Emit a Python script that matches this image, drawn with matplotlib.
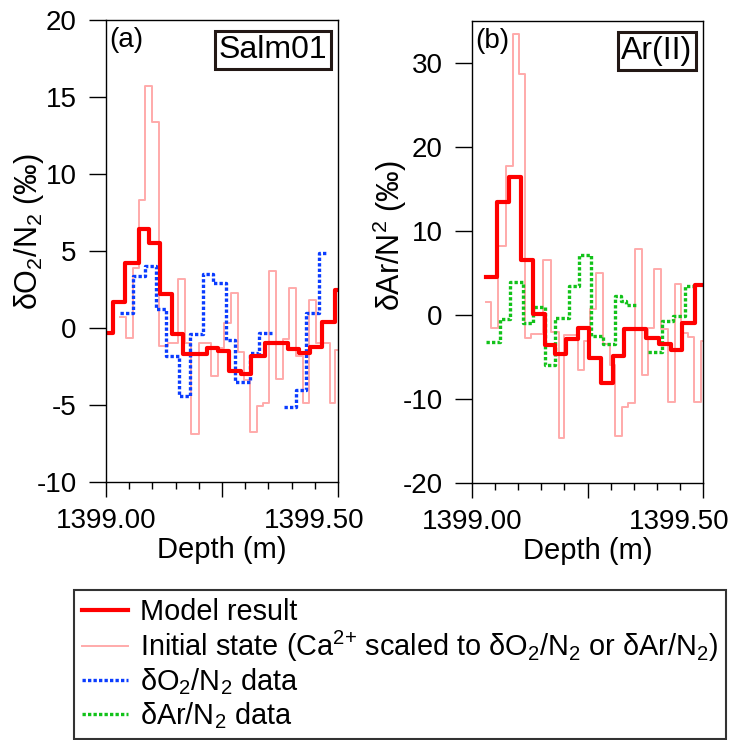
import numpy as np
import matplotlib
matplotlib.use("Agg")
from matplotlib import pyplot as plt
from matplotlib.transforms import ScaledTranslation

plt.rcParams["font.family"] = ["Liberation Sans", "DejaVu Sans"]
plt.rcParams["mathtext.default"] = "regular"
plt.rcParams["axes.unicode_minus"] = False

# panel (a) Salm01
a_model_edges = [1399.000, 1399.016, 1399.040, 1399.072, 1399.092, 1399.117, 1399.142, 1399.166,
                 1399.217, 1399.241, 1399.266, 1399.291, 1399.313, 1399.342, 1399.392, 1399.417,
                 1399.440, 1399.466, 1399.493, 1399.500]
a_model_vals = [-0.3, 1.7, 4.2, 6.4, 5.5, 2.2, -0.4, -1.7, -1.3, -1.5, -2.8, -3.0, -1.8, -1.0,
                -1.35, -1.6, -1.25, 0.4, 2.5]

a_init_edges = [1399.030, 1399.043, 1399.058, 1399.072, 1399.085, 1399.099, 1399.115, 1399.133,
                1399.155, 1399.171, 1399.183, 1399.200, 1399.226, 1399.241, 1399.255, 1399.269,
                1399.284, 1399.298, 1399.310, 1399.325, 1399.338, 1399.352, 1399.366, 1399.381,
                1399.395, 1399.410, 1399.424, 1399.438, 1399.453, 1399.482, 1399.494, 1399.500]
a_init_vals = [0.7, -0.65, 3.9, 8.3, 15.7, 13.4, -1.2, -0.95, 3.15, -1.0, -6.9, -0.95, -3.1, -1.3,
               0.3, 2.3, -1.55, -3.4, -6.75, -5.05, -4.9, 3.7, -3.3, -0.7, 2.6, -1.8, -4.9, 1.8,
               -1.0, -4.9, -1.4]

a_o2_edges = [1399.030, 1399.058, 1399.083, 1399.108, 1399.130, 1399.158, 1399.180, 1399.210,
              1399.230, 1399.258, 1399.277, 1399.311, 1399.330, 1399.358, 1399.383, 1399.410,
              1399.432, 1399.460, 1399.475]
a_o2_vals = [1.0, 3.4, 4.0, 1.25, -1.8, -4.4, -0.4, 3.5, 2.9, -0.75, -3.5, -1.6, -0.3, np.nan,
             -5.1, -4.0, 1.0, 4.9]

# panel (b) Ar(II)
b_model_edges = [1399.031, 1399.055, 1399.080, 1399.106, 1399.131, 1399.157, 1399.180, 1399.204,
                 1399.229, 1399.254, 1399.280, 1399.305, 1399.330, 1399.377, 1399.404, 1399.430,
                 1399.455, 1399.482, 1399.500]
b_model_vals = [4.5, 13.4, 16.4, 6.6, 0.1, -3.6, -4.6, -2.8, -1.6, -5.1, -8.1, -4.9, -1.7, -2.7,
                -3.4, -4.2, -1.0, 3.6]

b_init_edges = [1399.031, 1399.042, 1399.056, 1399.073, 1399.088, 1399.102, 1399.115, 1399.128,
                1399.154, 1399.172, 1399.188, 1399.199, 1399.229, 1399.242, 1399.256, 1399.269,
                1399.284, 1399.298, 1399.310, 1399.325, 1399.338, 1399.352, 1399.368, 1399.381,
                1399.395, 1399.410, 1399.424, 1399.439, 1399.453, 1399.468, 1399.481, 1399.495,
                1399.500]
b_init_vals = [1.5, -1.6, 8.2, 17.7, 33.5, 28.7, -2.7, -2.3, 6.5, -2.0, -14.7, -2.4, -6.6, -3.1,
               0.7, 5.0, -3.5, -6.0, -14.4, -11.0, -10.5, 7.9, -7.1, -1.5, 5.5, -1.7, -10.4, 3.7,
               -2.1, -2.6, -10.4, -3.1]

b_ar_edges = [1399.031, 1399.060, 1399.082, 1399.110, 1399.132, 1399.159, 1399.180, 1399.211,
              1399.232, 1399.258, 1399.284, 1399.310, 1399.323, 1399.334, 1399.358, 1399.381,
              1399.411, 1399.435, 1399.460, 1399.478]
b_ar_vals = [-3.2, -0.5, 3.9, -1.0, 1.0, -6.0, -0.3, 3.5, 7.2, -2.5, -3.5, 2.25, 1.65, 1.15,
             np.nan, -4.4, -0.7, -0.1, 3.4]

x_ticks = [1399.00, 1399.25, 1399.50]
x_ticklabels = ["1399.00", "", "1399.50"]

RED = "#ff0000"
PINK = "#ffaaaa"
BLUE = "#0a3cff"
GREEN = "#12c21a"
DOT = (0, (1.0, 0.65))


def stairs(ax, edges, vals, **kw):
    y = list(vals) + [vals[-1]]
    return ax.step(edges, y, where="post", **kw)[0]


def style(ax, ylim, yticks, ylabel, label_xy, tag, name):
    ax.set_xlim(1399.0, 1399.5)
    ax.set_ylim(*ylim)
    ax.set_yticks(yticks)
    ax.set_xticks(x_ticks)
    ax.set_xticklabels(x_ticklabels)
    ax.set_xticks(np.arange(1399.0, 1399.501, 0.05), minor=True)
    ax.tick_params(axis="y", direction="out", length=12, width=1, pad=9, labelsize=20)
    ax.tick_params(axis="x", which="major", direction="out", length=11, width=1, pad=8, labelsize=20)
    ax.tick_params(axis="x", which="minor", direction="out", length=5, width=1)
    # last depth label sits shifted left, as in the original
    last = ax.get_xticklabels()[-1]
    last.set_transform(last.get_transform() + ScaledTranslation(-0.24, 0, fig.dpi_scale_trans))
    for s in ax.spines.values():
        s.set_linewidth(1.0)
    ax.set_xlabel("Depth (m)", fontsize=21, labelpad=1)
    ax.set_ylabel(ylabel, fontsize=22)
    ax.yaxis.label.set(ha="center", va="center", rotation_mode="default")
    ax.yaxis.set_label_coords(*label_xy)
    ax.text(0.015, 0.985, tag, transform=ax.transAxes, fontsize=20, va="top", ha="left")
    ax.text(0.955, 0.935, name, transform=ax.transAxes, fontsize=23, va="center", ha="right",
            bbox=dict(boxstyle="square,pad=0.12", fc="white", ec="#231815", lw=2.2))


fig = plt.figure(figsize=(7.34, 7.40), dpi=100)
ax_a = fig.add_axes([106 / 734, 1 - 482 / 740, 232 / 734, 462 / 740])
ax_b = fig.add_axes([472 / 734, 1 - 483 / 740, 231 / 734, 462 / 740])

h_init = stairs(ax_a, a_init_edges, a_init_vals, color=PINK, lw=1.4)
h_o2 = stairs(ax_a, a_o2_edges, a_o2_vals, color=BLUE, lw=2.4, linestyle=DOT)
h_model = stairs(ax_a, a_model_edges, a_model_vals, color=RED, lw=3.0)

stairs(ax_b, b_init_edges, b_init_vals, color=PINK, lw=1.4)
h_ar = stairs(ax_b, b_ar_edges, b_ar_vals, color=GREEN, lw=2.4, linestyle=DOT)
stairs(ax_b, b_model_edges, b_model_vals, color=RED, lw=3.0)

style(ax_a, (-10, 20), np.arange(-10, 21, 5), "δO$_2$/N$_2$ (‰)", (-0.332, 0.543), "(a)", "Salm01")
style(ax_b, (-20, 35), np.arange(-20, 31, 10), "δAr/N$^2$ (‰)", (-0.355, 0.535), "(b)", "Ar(II)")

leg = fig.legend([h_model, h_init, h_o2, h_ar],
                 ["Model result",
                  "Initial state (Ca$^{2{+}}$ scaled to δO$_2$/N$_2$ or δAr/N$_2$)",
                  "δO$_2$/N$_2$ data",
                  "δAr/N$_2$ data"],
                 loc="upper left", bbox_to_anchor=(74 / 734, 1 - 590 / 740),
                 borderaxespad=0, frameon=True, fancybox=False, edgecolor="#333333",
                 framealpha=1, fontsize=20.8, handlelength=1.6, handletextpad=0.4,
                 borderpad=0.28, labelspacing=0.09)
leg.get_frame().set_linewidth(1.5)

fig.savefig("out.png", dpi=100)
